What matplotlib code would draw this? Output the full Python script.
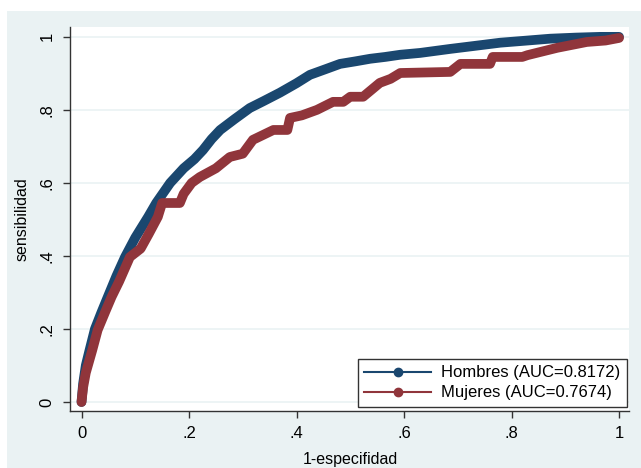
import matplotlib
matplotlib.use("Agg")
import matplotlib.pyplot as plt
from matplotlib.patches import Rectangle

# ROC curve data (1-specificity, sensitivity)
hombres_x = [0.0, 0.003, 0.008, 0.015, 0.025, 0.037, 0.049, 0.065, 0.081, 0.10, 0.124,
             0.139, 0.165, 0.19, 0.21, 0.226, 0.242, 0.258, 0.285, 0.313, 0.34, 0.369,
             0.40, 0.425, 0.455, 0.481, 0.51, 0.537, 0.565, 0.593, 0.63, 0.686, 0.73,
             0.779, 0.83, 0.872, 0.92, 0.965, 1.0]
hombres_y = [0.0, 0.05, 0.10, 0.142, 0.20, 0.245, 0.288, 0.345, 0.397, 0.45, 0.507,
             0.545, 0.60, 0.64, 0.665, 0.69, 0.72, 0.745, 0.775, 0.805, 0.825, 0.847,
             0.873, 0.896, 0.912, 0.926, 0.933, 0.94, 0.945, 0.951, 0.956, 0.967, 0.975,
             0.984, 0.99, 0.995, 0.998, 1.0, 1.0]

mujeres_x = [0.0, 0.003, 0.008, 0.02, 0.03, 0.045, 0.056, 0.07, 0.09, 0.11, 0.125, 0.142,
             0.15, 0.183, 0.19, 0.205, 0.22, 0.25, 0.276, 0.30, 0.319, 0.357, 0.383,
             0.388, 0.41, 0.438, 0.468, 0.487, 0.50, 0.524, 0.555, 0.575, 0.593, 0.686,
             0.705, 0.76, 0.765, 0.82, 0.83, 0.885, 0.94, 0.975, 1.0]
mujeres_y = [0.0, 0.04, 0.08, 0.142, 0.197, 0.25, 0.288, 0.33, 0.397, 0.42, 0.46, 0.507,
             0.545, 0.545, 0.57, 0.60, 0.616, 0.64, 0.671, 0.68, 0.718, 0.745, 0.745,
             0.778, 0.785, 0.80, 0.822, 0.822, 0.836, 0.836, 0.874, 0.885, 0.901, 0.904,
             0.926, 0.926, 0.945, 0.945, 0.95, 0.97, 0.986, 0.99, 0.997]

labels = ["Hombres (AUC=0.8172)", "Mujeres (AUC=0.7674)"]
xticks = [0, 0.2, 0.4, 0.6, 0.8, 1]
xticklabels = ["0", ".2", ".4", ".6", ".8", "1"]
yticks = [0, 0.2, 0.4, 0.6, 0.8, 1]
yticklabels = ["0", ".2", ".4", ".6", ".8", "1"]

plt.rcParams['font.family'] = ['Liberation Sans', 'DejaVu Sans']

W, H = 641, 468
fig = plt.figure(figsize=(W / 100, H / 100), dpi=100)
fig.patch.set_facecolor("white")
fig.patches.append(Rectangle((7 / W, 0), 1 - 7 / W, 1 - 11 / H, transform=fig.transFigure,
                             facecolor="#eaf2f3", edgecolor="none", zorder=-10))

ax = fig.add_axes([70 / W, 1 - 411 / H, (629 - 70) / W, (411 - 27) / H])
ax.set_facecolor("white")

blue = "#1a476f"
red = "#90353b"

ax.plot(hombres_x, hombres_y, color=blue, lw=7, solid_joinstyle="round",
        solid_capstyle="round", zorder=3)
ax.plot(mujeres_x, mujeres_y, color=red, lw=7, solid_joinstyle="round",
        solid_capstyle="round", zorder=4)

# legend handles
h1, = ax.plot([], [], color=blue, lw=1.5, marker="o", ms=6)
h2, = ax.plot([], [], color=red, lw=1.5, marker="o", ms=6)
leg = ax.legend([h1, h2], labels, loc="lower right", bbox_to_anchor=(0.9964, 0.0104),
                borderaxespad=0, fancybox=False, framealpha=1, edgecolor="#333333",
                fontsize=12, handlelength=4.0, handletextpad=0.6, borderpad=0.4,
                labelspacing=0.3)
leg.get_frame().set_linewidth(1.0)
leg.set_zorder(10)

ax.set_xlim(-0.0214, 1.0186)
ax.set_ylim(-0.0247, 1.027)

for y in yticks:
    ax.axhline(y, color="#eaf2f3", lw=1.2, zorder=1)

ax.set_xticks(xticks)
ax.set_xticklabels(xticklabels)
ax.set_yticks(yticks)
ax.set_yticklabels(yticklabels, rotation=90, va="center")
ax.tick_params(axis="both", direction="out", length=5, width=1, colors="#333333",
               labelcolor="black", labelsize=12, pad=6)

for s in ["top", "right"]:
    ax.spines[s].set_visible(False)
for s in ["left", "bottom"]:
    ax.spines[s].set_color("#333333")
    ax.spines[s].set_linewidth(1.0)

fig.text(350 / W, 1 / H, "1-especifidad", ha="center", va="bottom", fontsize=11.5)
fig.text(22 / W, 1 - 219 / H, "sensibilidad", ha="center", va="center",
         rotation=90, fontsize=11.5)

fig.savefig("out.png", dpi=100)
